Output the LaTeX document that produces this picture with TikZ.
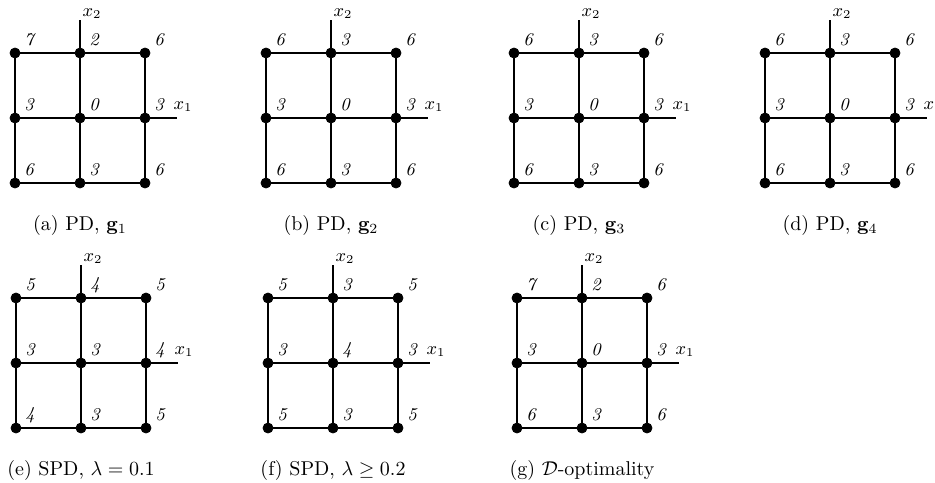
\documentclass[tikz,border=0pt]{standalone}
\usepackage{amsmath}
\usepackage{amssymb}
\usepackage{tikz}
\usetikzlibrary{calc}

% one 3x3 design panel: #1 name, #2 shift of top-left point, #3 values (row by row), #4 caption
\newcommand{\designgrid}[4]{%
  \begin{scope}[shift={#2}]
    \foreach \v [count=\k from 0] in {#3} {
      \pgfmathtruncatemacro{\col}{mod(\k,3)}
      \pgfmathtruncatemacro{\row}{div(\k,3)}
      \node[pt] (#1-\row\col) at (\col*65,\row*65) {};
      \node[val] (#1-v\row\col) at ($(#1-\row\col)+(14,-13)$) {\v};
    }
    % axes
    \coordinate (#1-top) at (65,-33);
    \coordinate (#1-right) at (162,65);
    \draw[axisline] (#1-01) -- (#1-top);
    \draw[axisline] (#1-12) -- (#1-right);
    \node[axlab] (#1-x2) at ($(#1-top)+(12,-6)$) {$x_2$};
    \node[axlab] (#1-x1) at ($(#1-right)+(6,-11)$) {$x_1$};
    % grid lines
    \draw[gridline] (#1-00) -- (#1-01) -- (#1-02);
    \draw[gridline] (#1-10) -- (#1-11) -- (#1-12);
    \draw[gridline] (#1-20) -- (#1-21) -- (#1-22);
    \draw[gridline] (#1-00) -- (#1-10) -- (#1-20);
    \draw[gridline] (#1-01) -- (#1-11) -- (#1-21);
    \draw[gridline] (#1-02) -- (#1-12) -- (#1-22);
    \node[subcap] (#1-cap) at (65,172) {#4};
  \end{scope}
}

\begin{document}
\begin{tikzpicture}[
  x=0.5pt, y=-0.5pt,
  pt/.style={circle, fill=black, draw=black, inner sep=0pt, minimum size=5pt},
  val/.style={font=\small\itshape, inner sep=0pt},
  axlab/.style={font=\small, inner sep=0pt},
  gridline/.style={line width=0.9pt},
  axisline/.style={line width=0.6pt},
  subcap/.style={font=\normalsize, inner sep=0pt},
]
\useasboundingbox (0,0) rectangle (935,482);

% ---------- top row: PD ----------
\designgrid{pa}{(15,53)}{7,2,6,3,0,3,6,3,6}{(a) PD, $\mathbf{g}_1$}
\designgrid{pb}{(266,53)}{6,3,6,3,0,3,6,3,6}{(b) PD, $\mathbf{g}_2$}
\designgrid{pc}{(514,53)}{6,3,6,3,0,3,6,3,6}{(c) PD, $\mathbf{g}_3$}
\designgrid{pd}{(765,53)}{6,3,6,3,0,3,6,3,6}{(d) PD, $\mathbf{g}_4$}

% ---------- bottom row: SPD and D-optimality ----------
\designgrid{pe}{(16,298)}{5,4,5,3,3,4,4,3,5}{(e) SPD, $\lambda = 0.1$}
\designgrid{pf}{(268,298)}{5,3,5,3,4,3,5,3,5}{(f) SPD, $\lambda \geq 0.2$}
\designgrid{pg}{(517,298)}{7,2,6,3,0,3,6,3,6}{(g) $\mathcal{D}$-optimality}

\end{tikzpicture}
\end{document}
